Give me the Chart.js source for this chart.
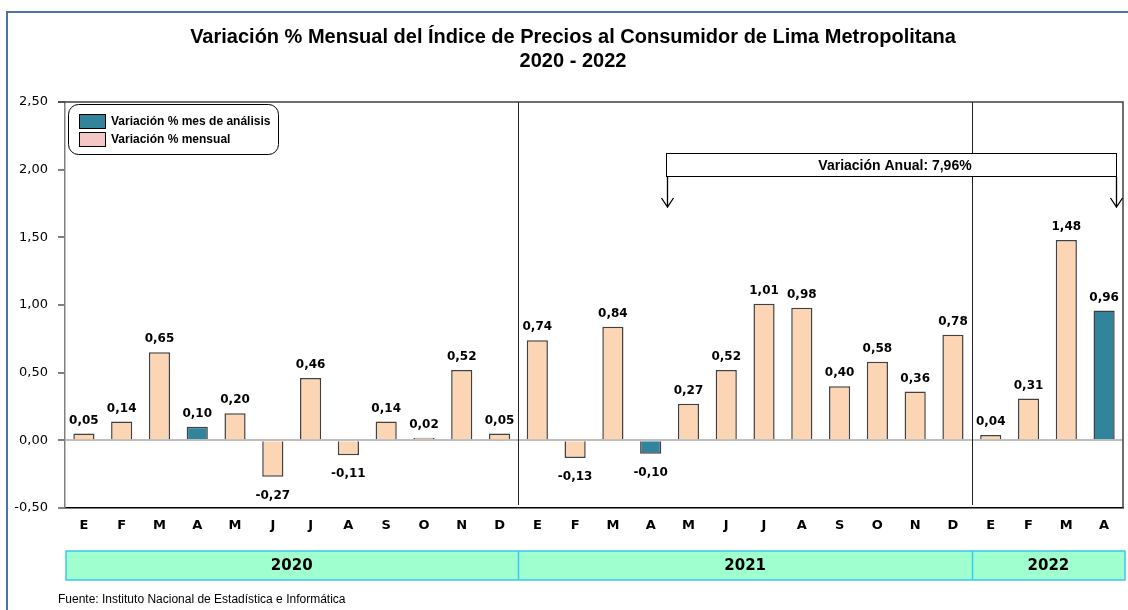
<!DOCTYPE html>
<html>
<head>
<meta charset="utf-8">
<script src="https://cdn.jsdelivr.net/npm/chart.js@4"></script>
<style>
  html, body { margin: 0; padding: 0; background: #fff; }
  #wrap { position: relative; width: 1128px; height: 610px; }
</style>
</head>
<body>
<div id="wrap"><canvas id="ipc" width="1128" height="610"></canvas></div>
<script>
let months = ["E", "F", "M", "A", "M", "J", "J", "A", "S", "O", "N", "D",
              "E", "F", "M", "A", "M", "J", "J", "A", "S", "O", "N", "D",
              "E", "F", "M", "A"];
let values = [0.05, 0.14, 0.65, 0.10, 0.20, -0.27, 0.46, -0.11, 0.14, 0.02, 0.52, 0.05,
              0.74, -0.13, 0.84, -0.10, 0.27, 0.52, 1.01, 0.98, 0.40, 0.58, 0.36, 0.78,
              0.04, 0.31, 1.48, 0.96];
let highlighted = [3, 15, 27];
let years = ["2020", "2021", "2022"];
let yearCounts = [12, 12, 4];
let yTicks = [-0.5, 0, 0.5, 1, 1.5, 2, 2.5];

const PEACH = "#fcd5b4";
const TEAL = "#31849b";

function fmt(v) {
    return v.toFixed(2).replace(".", ",");
}

let barColors = values.map((v, i) => highlighted.includes(i) ? TEAL : PEACH);

/* everything drawn around the bars */
const decor = {
    id: "decor",
    beforeDraw(chart) {
        let ctx = chart.ctx;
        ctx.save();
        // outer frame (top + left)
        ctx.strokeStyle = "#4f73a8";
        ctx.lineWidth = 2;
        ctx.beginPath();
        ctx.moveTo(7, 610);
        ctx.lineTo(7, 12);
        ctx.lineTo(1128, 12);
        ctx.stroke();

        // title
        ctx.fillStyle = "#000";
        ctx.textAlign = "center";
        ctx.textBaseline = "middle";
        ctx.font = "bold 20px 'Liberation Sans Narrow', 'Arial Narrow', sans-serif";
        ctx.fillText("Variación % Mensual del Índice de Precios al Consumidor de Lima Metropolitana", 573, 37);
        ctx.fillText("2020 - 2022", 573, 61);
        ctx.restore();
    },
    afterDatasetsDraw(chart) {
        let ctx = chart.ctx;
        let a = chart.chartArea;
        let x = chart.scales.x;
        ctx.save();

        // plot box (top + right)
        ctx.strokeStyle = "#404040";
        ctx.lineWidth = 1.5;
        ctx.beginPath();
        ctx.moveTo(58, a.top);
        ctx.lineTo(a.right, a.top);
        ctx.lineTo(a.right, a.bottom);
        ctx.stroke();

        // year dividers inside plot
        ctx.strokeStyle = "#222";
        ctx.lineWidth = 1;
        let idx = 0;
        let bounds = [a.left];
        yearCounts.forEach((n, k) => {
            idx += n;
            let px = idx < months.length
                ? (x.getPixelForValue(idx - 1) + x.getPixelForValue(idx)) / 2
                : a.right;
            bounds.push(px);
            if (idx < months.length) {
                ctx.beginPath();
                ctx.moveTo(Math.round(px) + 0.5, a.top);
                ctx.lineTo(Math.round(px) + 0.5, a.bottom - 3);
                ctx.stroke();
            }
        });

        // value labels
        ctx.fillStyle = "#000";
        ctx.font = "bold 12px 'DejaVu Sans', Verdana, sans-serif";
        ctx.textAlign = "center";
        let meta = chart.getDatasetMeta(0);
        meta.data.forEach((bar, i) => {
            let v = values[i];
            if (v >= 0) {
                ctx.textBaseline = "bottom";
                ctx.fillText(fmt(v), bar.x, bar.y - 7);
            } else {
                ctx.textBaseline = "top";
                ctx.fillText(fmt(v), bar.x, bar.y + 13);
            }
        });

        // year band
        let bandTop = 551, bandH = 29;
        ctx.fillStyle = "#9fffce";
        ctx.fillRect(a.left + 1, bandTop, 1125 - a.left - 1, bandH);
        ctx.strokeStyle = "#3cc8f0";
        ctx.lineWidth = 1.5;
        ctx.strokeRect(a.left + 1, bandTop, 1125 - a.left - 1, bandH);
        ctx.fillStyle = "#000";
        ctx.font = "bold 15px 'DejaVu Sans', Verdana, sans-serif";
        ctx.textBaseline = "middle";
        years.forEach((y, k) => {
            let l = bounds[k], r = k === years.length - 1 ? 1125 : bounds[k + 1];
            if (k > 0) {
                ctx.beginPath();
                ctx.moveTo(Math.round(l) + 0.5, bandTop);
                ctx.lineTo(Math.round(l) + 0.5, bandTop + bandH);
                ctx.stroke();
            }
            ctx.fillText(y, (l + r) / 2, bandTop + bandH / 2 + 1);
        });

        // legend
        ctx.strokeStyle = "#000";
        ctx.lineWidth = 1;
        ctx.beginPath();
        ctx.roundRect(68.5, 104.5, 210, 50, 10);
        ctx.fillStyle = "#fff";
        ctx.fill();
        ctx.stroke();
        let items = [["Variación % mes de análisis", TEAL], ["Variación % mensual", "#f5c6c6"]];
        ctx.font = "bold 12px 'Liberation Sans', Arial, sans-serif";
        ctx.textAlign = "left";
        items.forEach((it, k) => {
            let yy = 114 + k * 18;
            ctx.fillStyle = it[1];
            ctx.fillRect(79.5, yy + 0.5, 26, 14);
            ctx.strokeStyle = "#000";
            ctx.strokeRect(79.5, yy + 0.5, 26, 14);
            ctx.fillStyle = "#000";
            ctx.fillText(it[0], 111, yy + 8);
        });

        // annual variation bracket
        ctx.fillStyle = "#fff";
        ctx.fillRect(666.5, 153.5, 450, 23);
        ctx.strokeStyle = "#000";
        ctx.strokeRect(666.5, 153.5, 450, 23);
        ctx.fillStyle = "#000";
        ctx.font = "bold 14px 'Liberation Sans', Arial, sans-serif";
        ctx.textAlign = "center";
        ctx.fillText("Variación Anual: 7,96%", 895, 166);
        ctx.lineWidth = 1.3;
        [667, 1116].forEach(px => {
            ctx.beginPath();
            ctx.moveTo(px + 0.5, 177);
            ctx.lineTo(px + 0.5, 207);
            ctx.moveTo(px - 5.5, 198);
            ctx.lineTo(px + 0.5, 207);
            ctx.lineTo(px + 6.5, 198);
            ctx.stroke();
        });

        // source
        ctx.font = "12px 'Liberation Sans', Arial, sans-serif";
        ctx.textAlign = "left";
        ctx.fillText("Fuente: Instituto Nacional de Estadística e Informática", 58, 600);
        ctx.restore();
    }
};

new Chart(document.getElementById("ipc"), {
    type: "bar",
    data: {
        labels: months,
        datasets: [{
            data: values,
            backgroundColor: barColors,
            borderColor: "#404040",
            borderWidth: 1.5,
            barPercentage: 0.56,
            categoryPercentage: 1
        }]
    },
    options: {
        responsive: false,
        animation: false,
        layout: { padding: { left: 0, right: 5, top: 102, bottom: 72 } },
        plugins: {
            legend: { display: false },
            tooltip: { enabled: false }
        },
        scales: {
            x: {
                grid: { display: false },
                border: { color: "#000", width: 1.5 },
                ticks: {
                    color: "#000",
                    font: { family: "'DejaVu Sans', Verdana, sans-serif", size: 13, weight: "bold" },
                    padding: 2,
                    maxRotation: 0,
                    autoSkip: false
                },
                afterFit(s) { s.height = 30; }
            },
            y: {
                min: -0.5,
                max: 2.5,
                afterBuildTicks(s) { s.ticks = yTicks.map(v => ({ value: v })); },
                border: { color: "#808080", width: 1.5 },
                grid: {
                    color: c => c.tick && c.tick.value === 0 ? "#bfbfbf" : "transparent",
                    lineWidth: 2,
                    tickColor: "#808080",
                    tickLength: 7
                },
                ticks: {
                    color: "#000",
                    font: { family: "'DejaVu Sans', Verdana, sans-serif", size: 13 },
                    padding: 10,
                    callback: v => fmt(v)
                },
                afterFit(s) { s.width = 65; }
            }
        }
    },
    plugins: [decor]
});
</script>
</body>
</html>
